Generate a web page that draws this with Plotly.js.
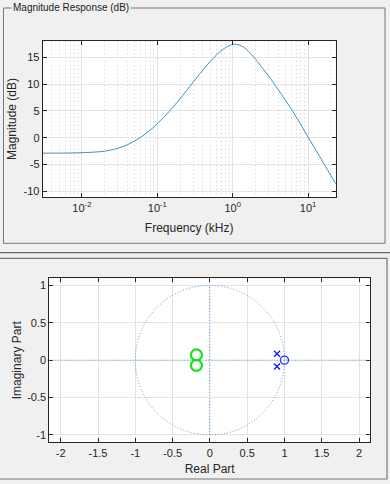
<!DOCTYPE html>
<html>
<head>
<meta charset="utf-8">
<script src="https://cdn.plot.ly/plotly-3.0.1.min.js"></script>
<style>
  html, body { margin: 0; padding: 0; background: #f0f0f0; }
  #chart { width: 390px; height: 484px; }
</style>
</head>
<body>
<div id="chart"></div>
<script>
// ---- Magnitude response data ----
const freqKHz = [0.00302, 0.005, 0.0092, 0.02, 0.03, 0.04, 0.05, 0.06, 0.07, 0.08, 0.09, 0.1,
                 0.146, 0.198, 0.271, 0.369, 0.501, 0.679, 0.875, 1.072, 1.38, 1.69, 2.0, 2.54,
                 3.0, 4.0, 5.0, 6.31, 7.94, 10.0, 14.26, 19.36, 23.2];
const magDB = [-2.87, -2.86, -2.8, -2.5, -1.95, -1.3, -0.6, 0.1, 0.75, 1.4, 2.0, 2.65,
               5.0, 7.2, 9.6, 12.0, 14.2, 16.05, 17.1, 17.45, 16.95, 15.8, 14.7, 12.8,
               11.5, 9.0, 7.0, 4.85, 2.5, 0.1, -3.5, -6.7, -8.6];

// ---- Pole/zero data ----
const greenZeroRe = [-0.18, -0.18];
const greenZeroIm = [0.07, -0.07];
const bluePoleRe = [0.9, 0.9];
const bluePoleIm = [0.085, -0.085];
const blueZeroRe = [1.0];
const blueZeroIm = [0.0];

// ---- Tick labels ----
const magTickVals = [-10, -5, 0, 5, 10, 15];
const magTickText = ['-10', '-5', '0', '5', '10', '15'];
const freqTickVals = [0.01, 0.1, 1, 10];
const freqTickText = ['10<sup>-2</sup>', '10<sup>-1</sup>', '10<sup>0</sup>', '10<sup>1</sup>'];
const reTickVals = [-2, -1.5, -1, -0.5, 0, 0.5, 1, 1.5, 2];
const reTickText = ['-2', '-1.5', '-1', '-0.5', '0', '0.5', '1', '1.5', '2'];
const imTickVals = [-1, -0.5, 0, 0.5, 1];
const imTickText = ['-1', '-0.5', '0', '0.5', '1'];

const W = 390, H = 484;
const px = v => v / W;
const py = v => 1 - v / H;

const FONT = 'Liberation Sans, Arial, Helvetica, sans-serif';
const AX = '#262626';
const GRID = '#e3e3e3';

const axisCommon = {
  showline: true, linecolor: AX, linewidth: 1, mirror: 'ticks',
  ticks: 'inside', ticklen: 4, tickcolor: AX, tickwidth: 1,
  showgrid: true, gridcolor: GRID, gridwidth: 1, zeroline: false,
  tickfont: { family: FONT, size: 11, color: AX },
  fixedrange: true
};

const traces = [
  {
    x: freqKHz, y: magDB, xaxis: 'x', yaxis: 'y', type: 'scatter', mode: 'lines',
    line: { color: '#3d8fd1', width: 1, shape: 'spline', smoothing: 1 },
    hoverinfo: 'skip'
  },
  {
    x: greenZeroRe, y: greenZeroIm, xaxis: 'x2', yaxis: 'y2', type: 'scatter', mode: 'markers',
    marker: { symbol: 'circle-open', size: 11, color: '#14e614', line: { width: 2.2, color: '#14e614' } },
    hoverinfo: 'skip'
  },
  {
    x: bluePoleRe, y: bluePoleIm, xaxis: 'x2', yaxis: 'y2', type: 'scatter', mode: 'markers',
    marker: { symbol: 'x-thin', size: 6, color: '#2020ff', line: { width: 1.5, color: '#2020ff' } },
    hoverinfo: 'skip'
  },
  {
    x: blueZeroRe, y: blueZeroIm, xaxis: 'x2', yaxis: 'y2', type: 'scatter', mode: 'markers',
    marker: { symbol: 'circle-open', size: 8, color: '#2020ff', line: { width: 1.3, color: '#2020ff' } },
    hoverinfo: 'skip'
  }
];

const DOT = '#4f9be0';
const DOTDASH = '1px,2px';
const panelLine = '#777777';

const layout = {
  width: W, height: H,
  margin: { l: 0, r: 0, t: 0, b: 0 },
  paper_bgcolor: '#f0f0f0',
  plot_bgcolor: '#ffffff',
  showlegend: false,
  font: { family: FONT, color: AX },
  xaxis: Object.assign({}, axisCommon, {
    type: 'log', range: [Math.log10(0.00302), Math.log10(23.2)],
    domain: [px(42.7), px(335.7)], anchor: 'y',
    tickvals: freqTickVals, ticktext: freqTickText,
    minor: { dtick: 'D1', showgrid: true, gridcolor: '#cdcdcd', griddash: '1px,3px', gridwidth: 1, ticks: '' },
    title: { text: 'Frequency (kHz)', font: { family: FONT, size: 12, color: AX }, standoff: 11 }
  }),
  yaxis: Object.assign({}, axisCommon, {
    range: [-11.1, 18.1], domain: [py(197.3), py(40.7)], anchor: 'x',
    tickvals: magTickVals, ticktext: magTickText,
    title: { text: 'Magnitude (dB)', font: { family: FONT, size: 12, color: AX }, standoff: 4 }
  }),
  xaxis2: Object.assign({}, axisCommon, {
    range: [-2.153, 2.147], domain: [px(49.3), px(370)], anchor: 'y2',
    tickvals: reTickVals, ticktext: reTickText,
    title: { text: 'Real Part', font: { family: FONT, size: 12, color: AX }, standoff: 7 }
  }),
  yaxis2: Object.assign({}, axisCommon, {
    range: [-1.098, 1.094], domain: [py(442.3), py(278.3)], anchor: 'x2',
    tickvals: imTickVals, ticktext: imTickText,
    title: { text: 'Imaginary Part', font: { family: FONT, size: 12, color: AX }, standoff: 2 }
  }),
  shapes: [
    // top panel frame
    { type: 'rect', xref: 'paper', yref: 'paper', x0: px(3.5), x1: px(385), y0: py(243.3), y1: py(8),
      line: { color: panelLine, width: 1 }, fillcolor: 'rgba(0,0,0,0)', layer: 'below' },
    // separator line
    { type: 'line', xref: 'paper', yref: 'paper', x0: 0, x1: 1, y0: py(252.7), y1: py(252.7),
      line: { color: '#666666', width: 1.2 } },
    // bottom panel frame
    { type: 'rect', xref: 'paper', yref: 'paper', x0: px(-2), x1: px(387), y0: py(479), y1: py(258.3),
      line: { color: panelLine, width: 1.2 }, fillcolor: 'rgba(0,0,0,0)', layer: 'below' },
    // unit circle
    { type: 'circle', xref: 'x2', yref: 'y2', x0: -1, x1: 1, y0: -1, y1: 1,
      line: { color: DOT, width: 1, dash: DOTDASH }, layer: 'above' },
    // real axis line
    { type: 'line', xref: 'x2', yref: 'y2', x0: -2.153, x1: 2.147, y0: 0, y1: 0,
      line: { color: DOT, width: 1, dash: DOTDASH }, layer: 'above' },
    // imaginary axis line
    { type: 'line', xref: 'x2', yref: 'y2', x0: 0, x1: 0, y0: -1, y1: 1,
      line: { color: DOT, width: 1, dash: DOTDASH }, layer: 'above' }
  ],
  annotations: [
    { text: 'Magnitude Response (dB)', xref: 'paper', yref: 'paper', x: px(11), y: py(7),
      xanchor: 'left', yanchor: 'middle', showarrow: false, bgcolor: '#f0f0f0',
      font: { family: FONT, size: 10, color: '#1a1a1a' }, borderpad: 1 }
  ]
};

Plotly.newPlot('chart', traces, layout, { staticPlot: true, displayModeBar: false });
</script>
</body>
</html>
